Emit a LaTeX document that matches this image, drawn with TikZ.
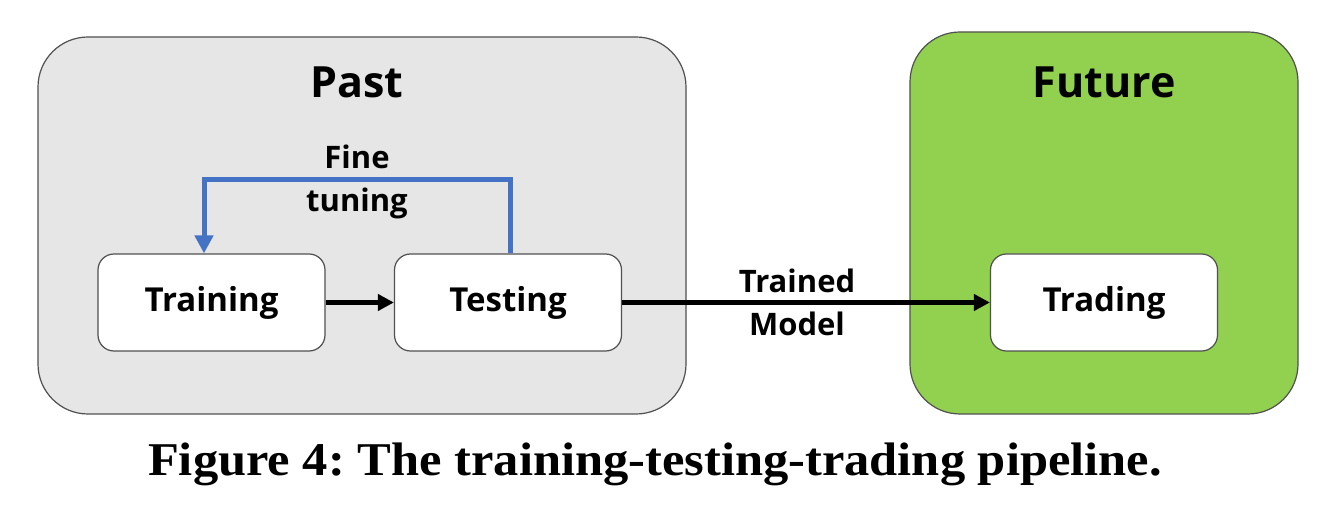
\documentclass[tikz,border=0pt]{standalone}
\usepackage{fontspec}
\setmainfont{Open Sans}
\newfontfamily\capfont{Liberation Serif}
\usetikzlibrary{arrows.meta}
\definecolor{pastgray}{HTML}{E6E6E6}
\definecolor{futgreen}{HTML}{92D050}
\definecolor{bordergray}{HTML}{505050}
\definecolor{tuneblue}{HTML}{4472C4}
\tikzset{
  region/.style={draw=bordergray, line width=1.2pt, rounded corners=50pt},
  stage/.style={draw=bordergray, fill=white, line width=1.2pt, rounded corners=16pt,
    minimum width=227pt, minimum height=97pt, font=\fontsize{33}{38}\selectfont\bfseries},
  flow/.style={line width=5pt, -{Triangle[length=16pt,width=16pt]}},
  title/.style={font=\fontsize{43}{50}\selectfont\bfseries},
  lbl/.style={font=\fontsize{31}{43}\selectfont\bfseries, align=center}
}
\begin{document}
\frenchspacing
\begin{tikzpicture}[x=1pt,y=-1pt]
\useasboundingbox (0,0) rectangle (1334,510);
\fill[white] (0,0) rectangle (1334,510);
\draw[region, fill=pastgray] (38,37) rectangle (686,414);
\draw[region, fill=futgreen] (910,32) rectangle (1298,414);
\node[title] (past) at (357,82) {Past};
\node[title] (future) at (1104,82) {Future};
\node[stage] (train) at (211.5,302.5) {Training};
\node[stage] (test) at (508,302.5) {Testing};
\node[stage] (trade) at (1104,302.5) {Trading};
\draw[flow] (train) -- (test);
\draw[flow] (test) -- (trade);
\coordinate (c1) at (510,180);
\coordinate (c2) at (204,180);
\draw[line width=5pt, tuneblue, -{Triangle[length=18pt,width=18pt]}] (test.north -| c1) -- (c1) -- (c2) -- (train.north -| c2);
\node[lbl] (ft) at (357,182) {Fine\\tuning};
\node[lbl] (tm) at (797,302) {Trained\\Model};
\node[font=\capfont\fontsize{47}{56}\selectfont\bfseries] (cap) at (655,464) {\scalebox{1.075}[1]{Figure 4: The training-testing-trading pipeline.}};
\end{tikzpicture}
\end{document}
